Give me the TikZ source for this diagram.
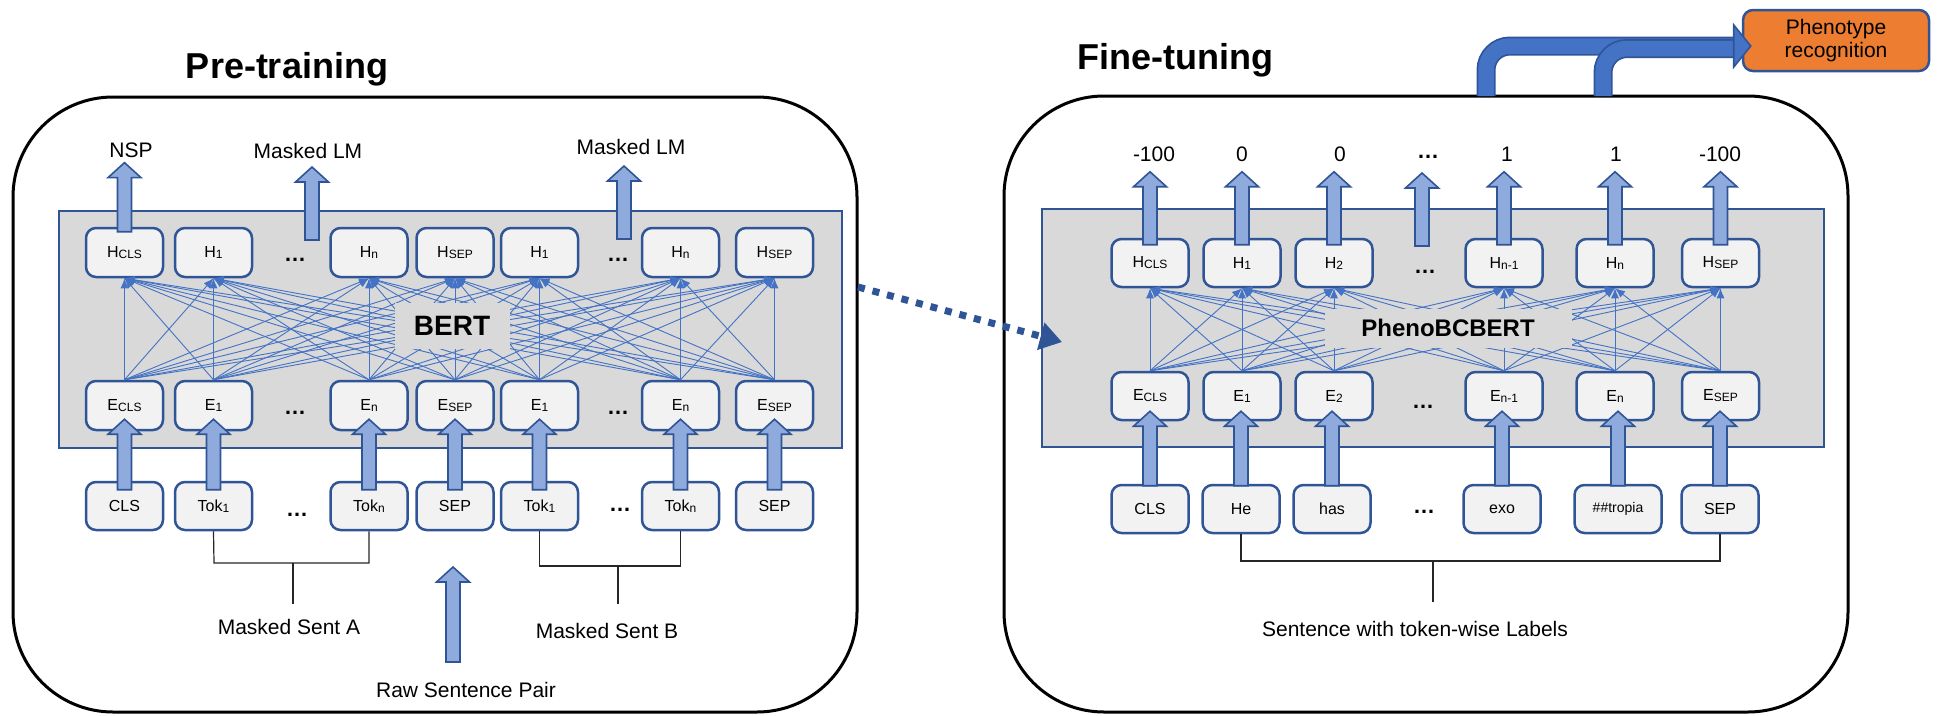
\documentclass[tikz,border=0pt]{standalone}
\usepackage{fontspec}
\setmainfont{Liberation Sans}
\usetikzlibrary{calc,arrows.meta}

\definecolor{boxblue}{HTML}{2F5597}
\definecolor{lineblue}{HTML}{4472C4}
\definecolor{arrfill}{HTML}{8FAADC}
\definecolor{boxfill}{HTML}{F2F2F2}
\definecolor{panelgray}{HTML}{D9D9D9}
\definecolor{orangefill}{HTML}{ED7D31}

% small lowered index text inside the token boxes
\newcommand\tsub[1]{\raisebox{-1pt}{\fontsize{12}{12}\selectfont #1}}

% fat upward block arrow: base point #1, tip height taken from #2
\newcommand\bigup[2]{%
  \path[blockarrow] let \p1=#1, \p2=#2 in
    (\x1-7pt,\y1) -- (\x1-7pt,\y2-15pt) -- (\x1-16.5pt,\y2-15pt) -- (\x1,\y2)
    -- (\x1+16.5pt,\y2-15pt) -- (\x1+7pt,\y2-15pt) -- (\x1+7pt,\y1) -- cycle;}

\tikzset{
  tokbox/.style={draw=boxblue, fill=boxfill, line width=2.5pt, rounded corners=10pt,
    minimum width=77pt, minimum height=49pt, inner sep=0pt,
    font=\fontsize{16}{18}\selectfont},
  panel/.style={draw=boxblue, fill=panelgray, line width=2.2pt},
  outer/.style={draw=black, line width=3pt, rounded corners=100pt},
  link/.style={draw=lineblue, line width=0.9pt, -{Latex[length=10pt,width=8pt]}},
  blockarrow/.style={draw=boxblue, fill=arrfill, line width=1.6pt, line join=miter},
  lbl/.style={font=\fontsize{21}{24}\selectfont, inner sep=0pt},
  title/.style={font=\fontsize{36}{40}\selectfont\bfseries, inner sep=0pt},
  dots/.style={font=\fontsize{22}{24}\selectfont\bfseries, inner sep=0pt},
  modelname/.style={fill=panelgray, inner sep=0pt},
  bracket/.style={draw=black!85, line width=1.2pt},
  dotarrow/.style={draw=boxblue, line width=7pt, dash pattern=on 7pt off 8pt,
    -{Triangle[length=22pt,width=27pt]}},
  bentedge/.style={draw=boxblue, line width=19pt, rounded corners=24pt},
  bentcore/.style={draw=lineblue, line width=15.5pt, rounded corners=24pt},
  bighead/.style={draw=boxblue, fill=lineblue, line width=1.6pt, line join=miter},
  pheno/.style={draw=boxblue, fill=orangefill, line width=2.5pt, rounded corners=10pt,
    minimum width=186pt, minimum height=61pt, align=center, inner sep=0pt,
    font=\fontsize{21}{23}\selectfont},
}

\begin{document}
\begin{tikzpicture}[x=1pt,y=-1pt]
\useasboundingbox (0,0) rectangle (1945,715);

% ---------- frames and titles ----------
\draw[outer] (13,97) rectangle (857,712);
\draw[outer] (1004,96) rectangle (1848,712);
\node[title, anchor=base] (pttitle) at (287,78) {Pre-training};
\node[title, anchor=base] (fttitle) at (1175,69) {Fine-tuning};

% ---------- pre-training ----------
\draw[panel] (59,211) rectangle (842,448);

\foreach \n/\cx/\s in {1/124.5/CLS,2/213.5/1,3/369/n,4/455/SEP,5/539.5/1,6/680.5/n,7/774.5/SEP}{
  \node[tokbox] (lh\n) at (\cx,252.5) {H\tsub{\s}};
  \node[tokbox] (le\n) at (\cx,405.5) {E\tsub{\s}};
}
\foreach \n/\cx/\t in {1/124.5/CLS,2/213.5/{Tok\tsub{1}},3/369/{Tok\tsub{n}},4/455/SEP,
    5/539.5/{Tok\tsub{1}},6/680.5/{Tok\tsub{n}},7/774.5/SEP}{
  \node[tokbox, minimum height=48pt] (lt\n) at (\cx,506) {\t};
}

\foreach \i in {1,...,7}{
  \foreach \j in {1,...,7}{
    \draw[link] (le\i.north) -- (lh\j.south);
  }
}
\node[modelname, minimum width=115pt, minimum height=46pt,
  font=\fontsize{28}{30}\selectfont\bfseries] (bert) at (452,326) {BERT};

\node[dots] (ldh1) at (295,260) {…};
\node[dots] (ldh2) at (618,260) {…};
\node[dots] (lde1) at (295,413) {…};
\node[dots] (lde2) at (618,413) {…};
\node[dots] (ldt1) at (297,515) {…};
\node[dots] (ldt2) at (620,510) {…};

\foreach \i in {1,...,7}{
  \bigup{($(lt\i.north)+(0,9)$)}{($(le\i.south)+(0,-12)$)}
}

\node[lbl] (nsp) at (131,150) {NSP};
\node[lbl] (mlma) at (308,151) {Masked LM};
\node[lbl] (mlmb) at (631,147) {Masked LM};
\bigup{($(lh1.north)+(0,5)$)}{($(nsp.south)+(0,5)$)}
\coordinate (mlmabase) at (312,240);
\coordinate (mlmbbase) at (624,239);
\coordinate (mlmatip) at (312,167);
\coordinate (mlmbtip) at (624,166);
\bigup{(mlmabase)}{(mlmatip)}
\bigup{(mlmbbase)}{(mlmbtip)}

% sentence brackets
\node[lbl] (senta) at (289,627) {Masked Sent A};
\node[lbl] (sentb) at (607,631) {Masked Sent B};
\node[lbl] (rawpair) at (466,690) {Raw Sentence Pair};
\draw[bracket] (lt2.south) -- (214,563) -- (369,563) -- (lt3.south);
\draw[bracket] (293,563) -- (293,604);
\draw[bracket] (lt5.south) -- (539.5,566) -- (680.5,566) -- (lt6.south);
\draw[bracket] (618,566) -- (618,604);
\coordinate (rawbase) at (453,662);
\coordinate (rawtip) at (453,567);
\bigup{(rawbase)}{(rawtip)}

% ---------- fine-tuning ----------
\draw[panel] (1042,209) rectangle (1824,447);

\foreach \n/\cx/\s in {1/1150/CLS,2/1242/1,3/1334/2,4/1504/n-1,5/1615/n,6/1720.5/SEP}{
  \node[tokbox, minimum height=48pt] (rh\n) at (\cx,263) {H\tsub{\s}};
  \node[tokbox, minimum height=48pt] (re\n) at (\cx,396) {E\tsub{\s}};
}
\foreach \n/\cx/\t in {1/1150/CLS,2/1241/He,3/1332/has,4/1502/exo,6/1720/SEP}{
  \node[tokbox, minimum height=48pt] (rt\n) at (\cx,509) {\t};
}
\node[tokbox, minimum height=48pt, minimum width=87pt, font=\fontsize{14}{16}\selectfont]
  (rt5) at (1618,509) {\#\#tropia};

\foreach \i in {1,...,6}{
  \foreach \j in {1,...,6}{
    \draw[link] (re\i.north) -- (rh\j.south);
  }
}
\node[modelname, minimum width=247pt, minimum height=39pt,
  font=\fontsize{24}{26}\selectfont\bfseries] (phenobert) at (1448,328) {PhenoBCBERT};

\node[dots] (rdh) at (1425,272) {…};
\node[dots] (rde) at (1423,407) {…};
\node[dots] (rdt) at (1424,512) {…};

\foreach \i in {1,...,6}{
  \bigup{($(rt\i.north)+(0,2)$)}{($(re\i.south)+(0,-10)$)}
}

% token-wise labels above the encoder
\foreach \n/\cx/\v in {1/1154/-100,2/1242/0,3/1340/0,5/1507/1,6/1616/1,7/1720/-100}{
  \node[lbl] (out\n) at (\cx,154) {\v};
}
\node[dots] (out4) at (1428,157) {…};
\foreach \i in {1,...,6}{
  \bigup{($(rh\i.north)+(0,7)$)}{($(rh\i.north)+(0,-66)$)}
}
\coordinate (dotsbase) at (1422,246);
\coordinate (dotstip) at (1422,173);
\bigup{(dotsbase)}{(dotstip)}

\node[lbl] (tokwise) at (1415,629) {Sentence with token-wise Labels};
\draw[bracket] (rt2.south) -- (1241,561) -- (1720,561) -- (rt6.south);
\draw[bracket] (1433,561) -- (1433,602);

% ---------- transfer from pre-training to fine-tuning ----------
\coordinate (xferstart) at (858,287);
\coordinate (xferend) at (1062,342);
\draw[dotarrow] (xferstart) -- (xferend);

% ---------- task output ----------
\node[pheno] (pheno) at (1836,40.5) {Phenotype\\recognition};
\coordinate (bendA) at (1486,96);
\coordinate (bendB) at (1603,96);
\draw[bentedge] (bendA) |- ($(pheno.west)+(-8,5.5)$);
\draw[bentcore] (bendA) |- ($(pheno.west)+(-8,5.5)$);
\draw[bentedge] (bendB) |- ($(pheno.west)+(-8,8)$);
\draw[bentcore] (bendB) |- ($(pheno.west)+(-8,8)$);
\draw[bighead] ($(pheno.west)+(-8,-15.5)$) -- ($(pheno.west)+(9,5.5)$)
  -- ($(pheno.west)+(-8,26.5)$) -- cycle;
\end{tikzpicture}
\end{document}
